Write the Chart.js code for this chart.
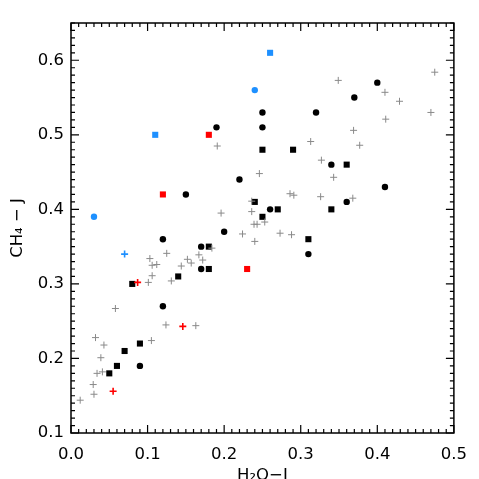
<!DOCTYPE html>
<html>
<head>
<meta charset="utf-8">
<script src="https://cdn.jsdelivr.net/npm/chart.js@4/dist/chart.umd.min.js"></script>
<style>
html,body{margin:0;padding:0;background:#fff;}
canvas{display:block;}
</style>
</head>
<body>
<canvas id="c" width="479" height="479"></canvas>
<script>
// ---- data ----
const blackCircleX = [0.19,0.25,0.25,0.32,0.40,0.37,0.22,0.15,0.34,0.41,0.36,0.26,0.20,0.12,0.17,0.17,0.31,0.12,0.09];
const blackCircleY = [0.51,0.53,0.51,0.53,0.57,0.55,0.44,0.42,0.46,0.43,0.41,0.40,0.37,0.36,0.35,0.32,0.34,0.27,0.19];
const blackSquareX = [0.25,0.29,0.36,0.24,0.27,0.34,0.25,0.31,0.18,0.18,0.14,0.08,0.09,0.07,0.06,0.05];
const blackSquareY = [0.48,0.48,0.46,0.41,0.40,0.40,0.39,0.36,0.35,0.32,0.31,0.30,0.22,0.21,0.19,0.18];
const redSquareX = [0.18,0.12,0.23];
const redSquareY = [0.50,0.42,0.32];
const blueSquareX = [0.26,0.11];
const blueSquareY = [0.61,0.50];
const blueCircleX = [0.24,0.03];
const blueCircleY = [0.56,0.39];
const bluePlusX = [0.070];
const bluePlusY = [0.340];
const redPlusX = [0.087,0.146,0.055];
const redPlusY = [0.302,0.243,0.156];
const grayPlusX = [0.475,0.349,0.410,0.429,0.470,0.411,0.369,0.377,0.191,0.313,0.327,0.246,0.343,0.286,0.291,0.326,0.368,0.236,0.236,0.196,0.239,0.243,0.253,0.224,0.273,0.288,0.240,0.184,0.125,0.167,0.152,0.157,0.172,0.103,0.112,0.106,0.144,0.106,0.131,0.101,0.058,0.124,0.163,0.105,0.032,0.043,0.039,0.034,0.041,0.029,0.030,0.012];
const grayPlusY = [0.584,0.573,0.557,0.545,0.530,0.521,0.506,0.486,0.485,0.491,0.466,0.448,0.443,0.421,0.419,0.417,0.415,0.411,0.397,0.395,0.380,0.380,0.383,0.367,0.368,0.366,0.357,0.348,0.341,0.339,0.333,0.328,0.332,0.334,0.326,0.325,0.324,0.311,0.304,0.302,0.267,0.245,0.244,0.224,0.228,0.218,0.201,0.180,0.182,0.165,0.152,0.144];
const xTickValues = [0.0,0.1,0.2,0.3,0.4,0.5];
const yTickValues = [0.1,0.2,0.3,0.4,0.5,0.6];
const xTitle = 'H\u2082O\u2212J';
const yTitle = 'CH\u2084 \u2212 J';

const pts = (xs, ys) => xs.map((x, i) => ({x: x, y: ys[i]}));
const BLUE = '#1e90ff', RED = '#ff0000', GRAY = '#8a8a8a';
const FONT = {family: "'DejaVu Sans', sans-serif", size: 16.5};

function ds(label, data, style, color, radius, bw) {
  return {label, data, pointStyle: style, pointRadius: radius, pointHoverRadius: radius,
    backgroundColor: color, borderColor: color, pointBorderWidth: bw, showLine: false};
}

const frame = {
  id: 'frame',
  afterDatasetsDraw(chart) {
    const {ctx, chartArea: a, scales: {x, y}} = chart;
    ctx.save();
    ctx.strokeStyle = '#000';
    ctx.lineWidth = 1.5;
    ctx.strokeRect(a.left, a.top, a.right - a.left, a.bottom - a.top);
    ctx.lineWidth = 1.2;
    ctx.beginPath();
    for (let k = 0; k <= 50; k++) {
      const px = x.getPixelForValue(k / 100);
      const len = (k % 10 === 0) ? 8 : 4;
      ctx.moveTo(px, a.bottom); ctx.lineTo(px, a.bottom - len);
      ctx.moveTo(px, a.top); ctx.lineTo(px, a.top + len);
    }
    for (let k = 10; k <= 65; k++) {
      const py = y.getPixelForValue(k / 100);
      const len = (k % 10 === 0) ? 8 : 4;
      ctx.moveTo(a.left, py); ctx.lineTo(a.left + len, py);
      ctx.moveTo(a.right, py); ctx.lineTo(a.right - len, py);
    }
    ctx.stroke();
    ctx.fillStyle = '#000';
    ctx.font = "16.5px 'DejaVu Sans', sans-serif";
    ctx.textAlign = 'center';
    ctx.textBaseline = 'alphabetic';
    ctx.fillText(xTitle, (a.left + a.right) / 2, 480);
    ctx.translate(22, (a.top + a.bottom) / 2);
    ctx.rotate(-Math.PI / 2);
    ctx.fillText(yTitle, 0, 0);
    ctx.restore();
  }
};

new Chart(document.getElementById('c'), {
  type: 'scatter',
  data: {
    datasets: [
      ds('gray', pts(grayPlusX, grayPlusY), 'cross', GRAY, 3.5, 1),
      ds('redplus', pts(redPlusX, redPlusY), 'cross', RED, 3.5, 1.6),
      ds('blueplus', pts(bluePlusX, bluePlusY), 'cross', BLUE, 3.5, 1.6),
      ds('bc', pts(blackCircleX, blackCircleY), 'circle', '#000', 3.2, 0),
      ds('bs', pts(blackSquareX, blackSquareY), 'rect', '#000', 4.3, 0),
      ds('rs', pts(redSquareX, redSquareY), 'rect', RED, 4.3, 0),
      ds('bls', pts(blueSquareX, blueSquareY), 'rect', BLUE, 4.3, 0),
      ds('blc', pts(blueCircleX, blueCircleY), 'circle', BLUE, 3.2, 0)
    ]
  },
  options: {
    responsive: false,
    animation: false,
    devicePixelRatio: 1,
    layout: {padding: {top: 23, right: 22, left: 0, bottom: 0}},
    plugins: {legend: {display: false}, tooltip: {enabled: false}},
    scales: {
      x: {
        type: 'linear', min: 0, max: 0.5,
        afterFit: s => { s.height = 46; },
        afterBuildTicks: s => { s.ticks = xTickValues.map(v => ({value: v})); },
        ticks: {font: FONT, color: '#000', padding: 12, callback: v => v.toFixed(1), maxRotation: 0},
        grid: {display: false, drawTicks: false},
        border: {display: false}
      },
      y: {
        type: 'linear', min: 0.1, max: 0.65,
        afterFit: s => { s.width = 71; },
        afterBuildTicks: s => { s.ticks = yTickValues.map(v => ({value: v})); },
        ticks: {font: FONT, color: '#000', padding: 7, callback: v => v.toFixed(1)},
        grid: {display: false, drawTicks: false},
        border: {display: false}
      }
    }
  },
  plugins: [frame]
});
</script>
</body>
</html>
